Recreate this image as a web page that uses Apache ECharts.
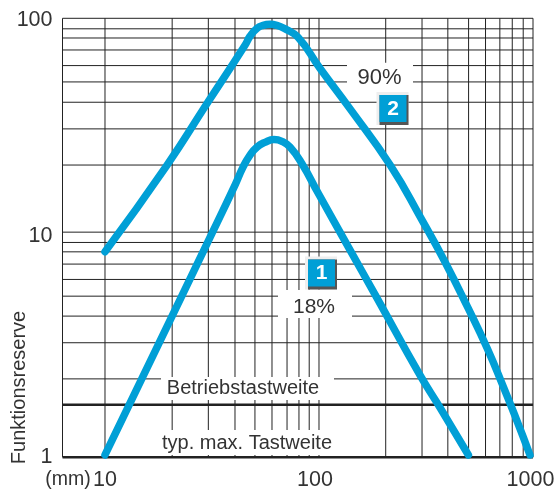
<!DOCTYPE html>
<html><head><meta charset="utf-8">
<style>html,body{margin:0;padding:0;background:#fff}#c{width:558px;height:492px}</style>
<script src="https://cdn.jsdelivr.net/npm/echarts@6/dist/echarts.min.js"></script>
</head><body><div id="c"></div>
<script>
var xMin = 6.33, xMax = 1000, yMin = 0.8855, yMax = 100;
var xGrid = [6.33,10,20.6,30.4,40.5,50.2,60.3,70.9,80.6,90,100,205,303,400,500,600,700,800,900,1000];
var yGrid = [100,89.3,80.9,71.1,60.1,50.4,40.5,30.4,20.6,10,8.95,8.09,7.09,6.01,5.02,4.05,3.04,2.06];
var yThick = [1.56, 0.8855];
var xTickValues = [10,100,1000];
var yTickValues = [0.8855,10,100];
var yTickLabels = ['1','10','100'];
var curve90 = [[10,8.09],[19.5,20.6],[29.6,39.2],[45.1,74.8],[47.6,82.4],[51.3,89.8],[54.8,92.7],[59,93.7],[63.6,92.7],[68.6,89.8],[79.8,81.5],[101,58.4],[140,37.6],[215,20.6],[303,11.38],[388,7.26],[497,4.42],[610,2.87],[724,1.91],[839,1.32],[968,0.908]];
var curve18 = [[10,0.908],[17.7,2.96],[31,9.47],[40.5,16.6],[44.1,20.1],[47.6,22.9],[51.3,25],[55.9,26.3],[61.6,27.1],[67.1,26.6],[73.2,25],[83,21],[99.2,15.2],[137,8.54],[189,4.81],[296,2.15],[368,1.51],[499,0.908]];

var FONT = '"Liberation Sans"', TXT = '#333333', BLUE = '#009fd6', GRID = '#222222';
function gridSeries(data, width){
  return {type:'line', data:data, symbol:'none', silent:true, clip:false, z:1, animation:false,
          lineStyle:{color:GRID, width:width}};
}
var series = [];
xGrid.forEach(function(v){ series.push(gridSeries([[v,yMin],[v,yMax]],1)); });
yGrid.forEach(function(v){ series.push(gridSeries([[xMin,v],[xMax,v]],1)); });
yThick.forEach(function(v){ series.push(gridSeries([[xMin,v],[xMax,v]],2.5)); });
[curve90,curve18].forEach(function(c){
  series.push({type:'line', data:c, symbol:'none', silent:true, clip:false, z:5, smooth:0.5, animation:false,
    lineStyle:{color:BLUE, width:7.5, cap:'round', join:'round'}});
});

function box(x,y,w,h){ return {type:'rect', z:3, silent:true, shape:{x:x,y:y,width:w,height:h}, style:{fill:'#fff'}}; }
function label(t,cx,cy,size){ return {type:'text', z:4, silent:true, x:cx, y:cy,
  style:{text:t, font:size+'px '+FONT, fill:TXT, align:'center', verticalAlign:'middle'}}; }
function badge(t,x,y){
  return [
    {type:'rect', z:6, silent:true, shape:{x:x,y:y,width:32,height:33}, style:{fill:'#eeeeee'}},
    {type:'rect', z:6, silent:true, shape:{x:x+3,y:y+3,width:29,height:30}, style:{fill:'#555555'}},
    {type:'rect', z:6, silent:true, shape:{x:x+3,y:y+3,width:27,height:27}, style:{fill:BLUE}},
    {type:'text', z:7, silent:true, x:x+16.5, y:y+17, style:{text:t, font:'bold 21px '+FONT, fill:'#fff', align:'center', verticalAlign:'middle'}}
  ];
}
var graphics = [
  box(347,62.7,66,29.5), label('90%',379.5,78,22),
  box(278,290,74,28), label('18%',314,307,21),
  box(161,377,173,23), label('Betriebstastweite',243,388,20),
  box(160,430,174,25), label('typ. max. Tastweite',247,443,20)
].concat(badge('2',376.5,92), badge('1',305,256.5), [
  {type:'text', silent:true, x:19, y:387.5, rotation:Math.PI/2,
   style:{text:'Funktionsreserve', font:'20px '+FONT, fill:TXT, align:'center', verticalAlign:'middle'}},
  {type:'text', silent:true, x:68, y:480, style:{text:'(mm)', font:'19.5px '+FONT, fill:TXT, align:'center', verticalAlign:'middle'}}
]);

var chart = echarts.init(document.getElementById('c'), null, {renderer:'canvas'});
chart.setOption({
  animation:false,
  backgroundColor:'#fff',
  grid:{left:62.5, right:25, top:18.3, bottom:34.7},
  xAxis:{type:'log', min:xMin, max:xMax, splitLine:{show:false}, axisLine:{show:false}, axisTick:{show:false},
    axisLabel:{customValues:xTickValues, fontFamily:FONT, fontSize:21.5, color:TXT, margin:12, showMinLabel:true, showMaxLabel:true, hideOverlap:false,
      formatter:function(v){ var r=Math.round(v); return r===100?'{h|100}':r===1000?'{k|1000}':''+r; },
      rich:{h:{fontFamily:FONT,fontSize:21.5,color:TXT,padding:[0,8,0,0]},k:{fontFamily:FONT,fontSize:21.5,color:TXT,padding:[0,5,0,0]}}}},
  yAxis:{type:'log', min:yMin, max:yMax, splitLine:{show:false}, axisLine:{show:false}, axisTick:{show:false},
    axisLabel:{customValues:yTickValues, fontFamily:FONT, fontSize:21.5, color:TXT, margin:10, showMinLabel:true, showMaxLabel:true, hideOverlap:false,
      formatter:function(v){ var i=yTickValues.findIndex(function(t){return Math.abs(t-v)<0.01*t;}); if(i<0) return ''; return i===0?yTickLabels[0]:(i===1?'{t|'+yTickLabels[1]+'}':'{u|'+yTickLabels[2]+'}'); },
      rich:{t:{fontFamily:FONT,fontSize:21.5,color:TXT,padding:[8,0,0,0]},u:{fontFamily:FONT,fontSize:21.5,color:TXT,padding:[4,0,0,0]}}}},
  graphic:graphics,
  series:series
});
</script></body></html>
